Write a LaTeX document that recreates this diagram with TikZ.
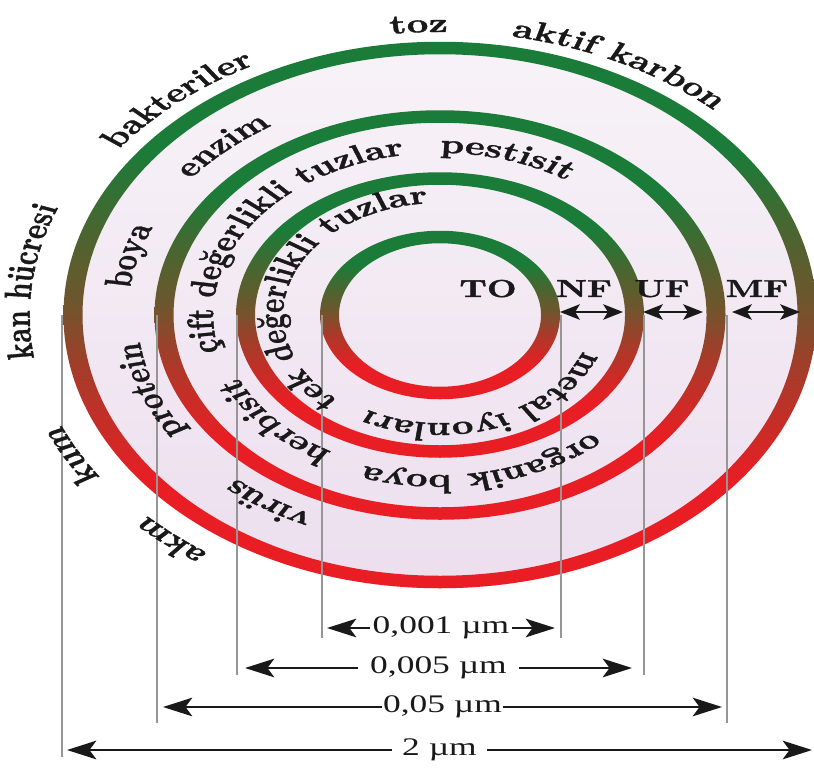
\documentclass[tikz,border=0pt]{standalone}
\usepackage{fontspec}
\usetikzlibrary{arrows.meta, decorations.text}

\newfontfamily\ringfamily{lmroman10-bold.otf}[FakeBold=1.2]
\newfontfamily\dimfamily{Liberation Serif}

\definecolor{ringgreen}{RGB}{26,124,56}
\definecolor{ringolive}{RGB}{72,102,48}
\definecolor{ringbrown}{RGB}{112,85,45}
\definecolor{ringrust}{RGB}{165,60,42}
\definecolor{ringred}{RGB}{232,30,36}
\definecolor{bgtop}{RGB}{248,243,248}
\definecolor{bgbottom}{RGB}{236,222,238}
\definecolor{guidegray}{RGB}{150,150,150}
\definecolor{ink}{RGB}{25,25,25}

\pgfdeclareverticalshading{ringshade}{100bp}{color(0bp)=(ringred); color(35bp)=(ringred); color(45bp)=(ringrust); color(51bp)=(ringbrown); color(58bp)=(ringolive); color(65bp)=(ringgreen); color(100bp)=(ringgreen)}

\newcommand{\ringfont}{\ringfamily\fontsize{19}{21}\selectfont}
\newcommand{\tagfont}{\ringfamily\fontsize{17.5}{19}\selectfont}
\newcommand{\dimfont}{\dimfamily\fontsize{18}{20}\selectfont}

\begin{document}
\begin{tikzpicture}[x=0.25mm, y=-0.25mm,
    ring/.style={shading=ringshade, even odd rule},
    guide/.style={draw=guidegray, line width=0.25mm},
    dimarrow/.style={draw=ink, line width=0.7mm, >={Stealth[length=5.2mm, width=4.6mm, inset=1.2mm]}, <->},
    dimlabel/.style={fill=white, inner sep=1mm, text=ink, font=\dimfont},
    sizearrow/.style={draw=ink, line width=0.65mm, >={Stealth[length=3.5mm, width=3.8mm, inset=0.8mm]}, <->},
    tag/.style={font=\tagfont, anchor=base, text=ink},
    ringtext/.style={decorate, decoration={text along path, text align=center, text color=ink, text={|\ringfont|#1}}}]

    \useasboundingbox (0,0) rectangle (814,769);
    \fill[white] (0,0) rectangle (814,769);

    % the whole figure is stretched sideways
    \begin{scope}[transform canvas={xscale=1.4}, x=0.178571mm]
    \coordinate (ctr) at (440,315);

    % lavender disc
    \shade[top color=bgtop, bottom color=bgbottom] (ctr) ellipse[x radius=376.5, y radius=273.25];

    % rings: TO, NF, UF, MF
    \shade[ring] (ctr) ellipse[x radius=120, y radius=84.25] (ctr) ellipse[x radius=101, y radius=71.75];
    \shade[ring] (ctr) ellipse[x radius=204, y radius=142.75] (ctr) ellipse[x radius=185, y radius=130.25];
    \shade[ring] (ctr) ellipse[x radius=285.5, y radius=204.75] (ctr) ellipse[x radius=266.5, y radius=192.25];
    \shade[ring] (ctr) ellipse[x radius=376.5, y radius=273.25] (ctr) ellipse[x radius=357.5, y radius=260.75];

    % guide lines down to the size arrows
    \coordinate (mfl) at (62,315);  \coordinate (mflb) at (62,757);
    \coordinate (ufl) at (157,315); \coordinate (uflb) at (157,723);
    \coordinate (nfl) at (237,315); \coordinate (nflb) at (237,675);
    \coordinate (tol) at (322,315); \coordinate (tolb) at (322,638);
    \coordinate (tor) at (561,315); \coordinate (torb) at (561,638);
    \coordinate (nfr) at (644,315); \coordinate (nfrb) at (644,675);
    \coordinate (ufr) at (727,315); \coordinate (ufrb) at (727,723);
    \draw[guide] (mfl) -- (mflb);
    \draw[guide] (ufl) -- (uflb);
    \draw[guide] (nfl) -- (nflb);
    \draw[guide] (tol) -- (tolb);
    \draw[guide] (tor) -- (torb);
    \draw[guide] (nfr) -- (nfrb);
    \draw[guide] (ufr) -- (ufrb);

    % pore sizes
    \coordinate (d1a) at (327,628); \coordinate (d1b) at (555,628);
    \coordinate (d2a) at (245,668); \coordinate (d2b) at (632,668);
    \coordinate (d3a) at (163,707); \coordinate (d3b) at (722,707);
    \coordinate (d4a) at (67,750);  \coordinate (d4b) at (812,750);
    \draw[dimarrow] (d1a) -- node[dimlabel, inner sep=0.5mm] {0,001 µm} (d1b);
    \draw[dimarrow] (d2a) -- node[dimlabel, inner sep=2.2mm] {0,005 µm} (d2b);
    \draw[dimarrow] (d3a) -- node[dimlabel, inner sep=0.2mm] {0,05 µm} (d3b);
    \draw[dimarrow] (d4a) -- node[dimlabel, inner sep=1.8mm] {2 µm} (d4b);

    % process tags
    \node[tag] (to) at (488,297) {TO};
    \node[tag] (nf) at (584,297) {NF};
    \node[tag] (uf) at (662,297) {UF};
    \node[tag] (mf) at (757,297) {MF};
    \coordinate (nfa) at (560,312); \coordinate (nfb) at (623,312);
    \coordinate (ufa) at (643,312); \coordinate (ufb) at (703,312);
    \coordinate (mfa) at (732,312); \coordinate (mfb) at (800,312);
    \draw[sizearrow] (nfa) -- (nfb);
    \draw[sizearrow] (ufa) -- (ufb);
    \draw[sizearrow] (mfa) -- (mfb);

    % outside MF
    \path[ringtext={toz}] ([shift={(177:396.2 and 283)}]ctr) arc[start angle=177, delta angle=180, x radius=396.2, y radius=283];
    \path[ringtext={aktif karbon}] ([shift={(207:396.2 and 283)}]ctr) arc[start angle=207, delta angle=180, x radius=396.2, y radius=283];
    \path[ringtext={bakteriler}] ([shift={(139:396.2 and 283)}]ctr) arc[start angle=139, delta angle=180, x radius=396.2, y radius=283];
    \path[ringtext={kan hücresi}] ([shift={(96.5:410.2 and 293)}]ctr) arc[start angle=96.5, delta angle=180, x radius=410.2, y radius=293];
    \path[ringtext={kum}] ([shift={(62:408.8 and 292)}]ctr) arc[start angle=62, delta angle=180, x radius=408.8, y radius=292];
    \path[ringtext={akm}] ([shift={(40.5:406 and 290)}]ctr) arc[start angle=40.5, delta angle=180, x radius=406, y radius=290];

    % between MF and UF
    \path[ringtext={enzim}] ([shift={(137.5:313.6 and 224)}]ctr) arc[start angle=137.5, delta angle=180, x radius=313.6, y radius=224];
    \path[ringtext={boya}] ([shift={(105:312.2 and 223)}]ctr) arc[start angle=105, delta angle=180, x radius=312.2, y radius=223];
    \path[ringtext={protein}] ([shift={(70:302.4 and 216)}]ctr) arc[start angle=70, delta angle=180, x radius=302.4, y radius=216];
    \path[ringtext={virüs}] ([shift={(33:306.6 and 219)}]ctr) arc[start angle=33, delta angle=180, x radius=306.6, y radius=219];

    % between UF and NF
    \path[ringtext={çift değerlikli tuzlar}] ([shift={(124:226.8 and 162)}]ctr) arc[start angle=124, delta angle=180, x radius=226.8, y radius=162];
    \path[ringtext={pestisit}] ([shift={(197:226.8 and 162)}]ctr) arc[start angle=197, delta angle=180, x radius=226.8, y radius=162];
    \path[ringtext={herbisit}] ([shift={(48:219.8 and 157)}]ctr) arc[start angle=48, delta angle=180, x radius=219.8, y radius=157];
    \path[ringtext={organik boya}] ([shift={(-11.5:224 and 160)}]ctr) arc[start angle=-11.5, delta angle=180, x radius=224, y radius=160];

    % between NF and TO
    \path[ringtext={tek değerlikli tuzlar}] ([shift={(108:156.8 and 112)}]ctr) arc[start angle=108, delta angle=180, x radius=156.8, y radius=112];
    \path[ringtext={metal iyonları}] ([shift={(-21:151.2 and 108)}]ctr) arc[start angle=-21, delta angle=180, x radius=151.2, y radius=108];
    \end{scope}
\end{tikzpicture}
\end{document}
